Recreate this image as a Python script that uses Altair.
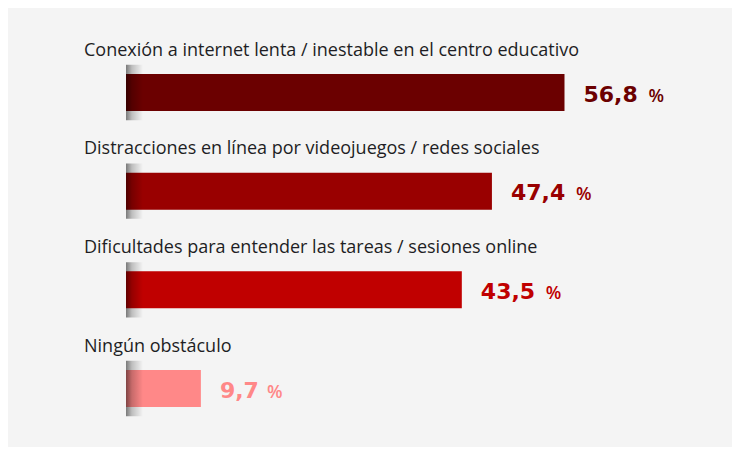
import altair as alt
import pandas as pd

categories = [
    "Conexión a internet lenta / inestable en el centro educativo",
    "Distracciones en línea por videojuegos / redes sociales",
    "Dificultades para entender las tareas / sesiones online",
    "Ningún obstáculo",
]
values = [56.8, 47.4, 43.5, 9.7]
value_labels = ["56,8", "47,4", "43,5", "9,7"]
colors = ["#6b0000", "#990000", "#c00000", "#ff8888"]

df = pd.DataFrame({
    "cat": categories,
    "val": values,
    "lbl": value_labels,
    "col": colors,
    "row": list(range(len(categories))),
})

BG = "#f4f4f4"
FONT = "Open Sans"

x_scale = alt.Scale(domain=[0, 100], range=[118, 890])
y_scale = alt.Scale(domain=[0, 3], range=[84.5, 380.5])
col_scale = alt.Scale(domain=categories, range=colors)

base = alt.Chart(df).transform_calculate(
    y1="datum.row - 0.1875",
    y2="datum.row + 0.1875",
    sy1="datum.row - 0.28",
    sy2="datum.row + 0.28",
    zero="0",
    shadow_end="2.2",
    pct_x="datum.val + (18 * length(datum.lbl) + 12) / 7.72",
)

bars = base.mark_rect().encode(
    x=alt.X("zero:Q", scale=x_scale, axis=None),
    x2="val:Q",
    y=alt.Y("y1:Q", scale=y_scale, axis=None),
    y2="y2:Q",
    color=alt.Color("cat:N", scale=col_scale, legend=None),
)

shadow = base.mark_rect(
    color=alt.LinearGradient(
        gradient="linear",
        x1=0, x2=1, y1=0, y2=0,
        stops=[
            alt.GradientStop(offset=0, color="rgba(0,0,0,0.5)"),
            alt.GradientStop(offset=0.35, color="rgba(0,0,0,0.22)"),
            alt.GradientStop(offset=1, color="rgba(0,0,0,0)"),
        ],
    )
).encode(
    x=alt.X("zero:Q", scale=x_scale, axis=None),
    x2="shadow_end:Q",
    y=alt.Y("sy1:Q", scale=y_scale, axis=None),
    y2="sy2:Q",
)

labels = base.mark_text(
    align="left", baseline="alphabetic", dx=-42, dy=-37,
    font=FONT, fontSize=18, color="#1e1e24",
).encode(
    x=alt.X("zero:Q", scale=x_scale, axis=None),
    y=alt.Y("row:Q", scale=y_scale, axis=None),
    text="cat:N",
)

nums = base.mark_text(
    align="left", baseline="alphabetic", dx=19, dy=9,
    font="DejaVu Sans", fontSize=22, fontWeight="bold",
).encode(
    x=alt.X("val:Q", scale=x_scale, axis=None),
    y=alt.Y("row:Q", scale=y_scale, axis=None),
    text="lbl:N",
    color=alt.Color("cat:N", scale=col_scale, legend=None),
)

pct = base.mark_text(
    align="left", baseline="alphabetic", dy=9,
    font=FONT, fontSize=18, fontWeight=600,
).encode(
    x=alt.X("pct_x:Q", scale=x_scale, axis=None),
    y=alt.Y("row:Q", scale=y_scale, axis=None),
    text=alt.value("%"),
    color=alt.Color("cat:N", scale=col_scale, legend=None),
)

chart = alt.layer(bars, shadow, labels, nums, pct).properties(
    width=724, height=439,
    background=BG,
    padding=0,
    autosize=alt.AutoSizeParams(type="none"),
).configure_view(stroke=None)

chart.save("out.html", embed_options={"renderer": "svg", "actions": False})
